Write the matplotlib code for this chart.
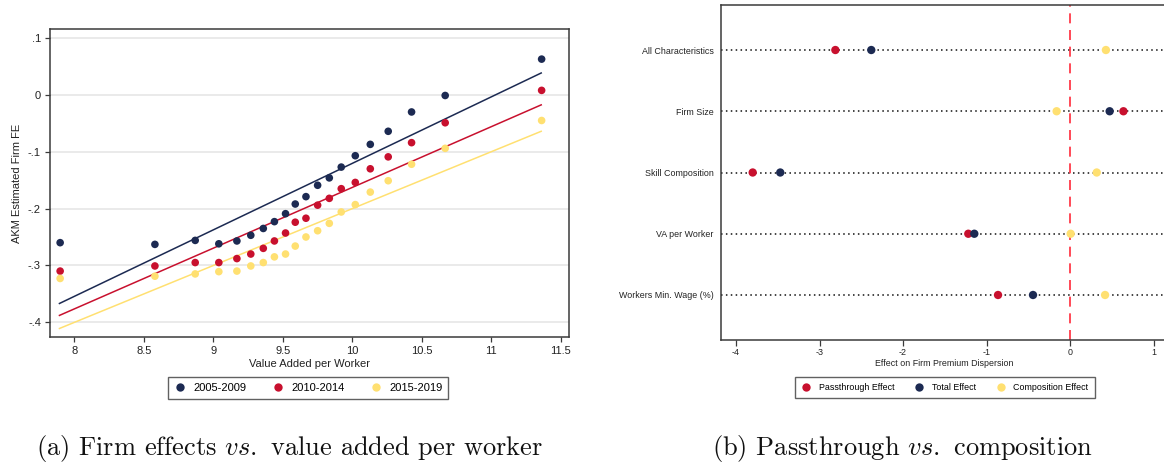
import numpy as np
import matplotlib
matplotlib.use("Agg")
import matplotlib.pyplot as plt
from matplotlib.ticker import FuncFormatter
from matplotlib.lines import Line2D

plt.rcParams["font.family"] = ["Liberation Sans", "DejaVu Sans"]

# ---------------- data: panel (a) ----------------
va_per_worker = [7.898, 8.58, 8.87, 9.04, 9.17, 9.27, 9.36, 9.44, 9.52, 9.59,
                 9.667, 9.751, 9.835, 9.921, 10.022, 10.13, 10.259, 10.427, 10.669, 11.363]
fe_2005_2009 = [-0.260, -0.263, -0.256, -0.262, -0.257, -0.247, -0.235, -0.223, -0.209, -0.192,
                -0.179, -0.159, -0.146, -0.127, -0.107, -0.087, -0.064, -0.030, -0.001, 0.063]
fe_2010_2014 = [-0.310, -0.301, -0.295, -0.295, -0.288, -0.280, -0.270, -0.257, -0.243, -0.224,
                -0.217, -0.194, -0.182, -0.165, -0.154, -0.130, -0.109, -0.084, -0.049, 0.008]
fe_2015_2019 = [-0.323, -0.319, -0.315, -0.311, -0.310, -0.301, -0.295, -0.285, -0.280, -0.266,
                -0.250, -0.239, -0.226, -0.206, -0.193, -0.171, -0.151, -0.122, -0.094, -0.045]
fit_x = [7.893, 11.36]
fit_2005_2009 = [-0.367, 0.0386]
fit_2010_2014 = [-0.388, -0.0175]
fit_2015_2019 = [-0.411, -0.064]
period_labels = ["2005-2009", "2010-2014", "2015-2019"]

# ---------------- data: panel (b) ----------------
characteristics = ["All Characteristics", "Firm Size", "Skill Composition",
                   "VA per Worker", "Workers Min. Wage (%)"]
passthrough_effect = [-2.81, 0.64, -3.80, -1.218, -0.862]
total_effect = [-2.38, 0.475, -3.47, -1.146, -0.443]
composition_effect = [0.43, -0.16, 0.32, 0.008, 0.42]
effect_labels = ["Passthrough Effect", "Total Effect", "Composition Effect"]

NAVY = "#1c2a52"
RED = "#c8102e"
YELLOW = "#ffe071"
SPINE = "#3a3a3a"
TXT = "#222222"

W, H = 1164, 466
fig = plt.figure(figsize=(W / 100, H / 100), dpi=100)

def ax_rect(x0, y0, x1, y1):
    return [x0 / W, 1 - y1 / H, (x1 - x0) / W, (y1 - y0) / H]

def stata_fmt(v, pos):
    if abs(v) < 1e-9:
        return "0"
    return ("%.1f" % v).replace("0.", ".")

# ---------------- panel (a) ----------------
ax1 = fig.add_axes(ax_rect(50, 29, 569, 337))
ax1.set_xlim(7.825, 11.56)
ax1.set_ylim(-0.426, 0.116)
for yv in [0.1, 0.0, -0.1, -0.2, -0.3, -0.4]:
    ax1.axhline(yv, color="#e6e6e6", lw=1.2, zorder=0)
series = [(fe_2005_2009, fit_2005_2009, NAVY),
          (fe_2010_2014, fit_2010_2014, RED),
          (fe_2015_2019, fit_2015_2019, YELLOW)]
for pts, fit, col in series:
    ax1.plot(fit_x, fit, color=col, lw=1.1, zorder=2)
for pts, fit, col in series:
    ax1.scatter(va_per_worker, pts, s=30, color=col, edgecolors="none", zorder=3)
ax1.set_yticks([0.1, 0.0, -0.1, -0.2, -0.3, -0.4])
ax1.yaxis.set_major_formatter(FuncFormatter(stata_fmt))
ax1.set_xticks([8, 8.5, 9, 9.5, 10, 10.5, 11, 11.5])
ax1.set_xticklabels(["8", "8.5", "9", "9.5", "10", "10.5", "11", "11.5"])
ax1.tick_params(axis="both", labelsize=8, length=3.5, width=0.9, color=SPINE,
                labelcolor=TXT, pad=3)
for sp in ax1.spines.values():
    sp.set_color(SPINE)
    sp.set_linewidth(1.1)
ax1.set_xlabel("Value Added per Worker", fontsize=8, color=TXT, labelpad=2)
ax1.set_ylabel("AKM Estimated Firm FE", fontsize=8, color=TXT, labelpad=4)
h1 = [Line2D([], [], ls="none", marker="o", ms=6, color=c, markeredgewidth=0)
      for c in (NAVY, RED, YELLOW)]
leg1 = fig.legend(h1, period_labels, loc="center", bbox_to_anchor=(308 / W, 1 - 388 / H),
                  ncol=3, fontsize=8, frameon=True, fancybox=False, edgecolor=SPINE,
                  handletextpad=0.6, columnspacing=2.2, borderpad=0.5, handlelength=1.2)
leg1.get_frame().set_linewidth(1.0)

# ---------------- panel (b) ----------------
ax2 = fig.add_axes(ax_rect(720.7, 5, 1168, 340))
ax2.set_xlim((720.7 - 1070) / 83.5, (1168 - 1070) / 83.5)
ax2.set_ylim(0.265, 5.735)
ypos = np.arange(len(characteristics))[::-1] + 1
for y in ypos:
    ax2.axhline(y, color="#111111", lw=1.1, ls=(0, (1, 2.2)), zorder=1)
ax2.axvline(0, color="#ff2a3a", lw=1.2, ls=(0, (6, 4)), zorder=1)
ax2.scatter(passthrough_effect, ypos, s=36, color=RED, edgecolors="none", zorder=3)
ax2.scatter(total_effect, ypos, s=36, color=NAVY, edgecolors="none", zorder=3)
ax2.scatter(composition_effect, ypos, s=36, color=YELLOW, edgecolors="none", zorder=3)
ax2.set_yticks(ypos)
ax2.set_yticklabels(characteristics)
ax2.tick_params(axis="y", length=0, labelsize=6.4, pad=5, labelcolor=TXT)
ax2.set_xticks([-4, -3, -2, -1, 0, 1])
ax2.set_xticklabels(["-4", "-3", "-2", "-1", "0", "1"])
ax2.tick_params(axis="x", labelsize=6.4, length=4, width=0.9, color=SPINE, pad=2,
                labelcolor=TXT)
for sp in ax2.spines.values():
    sp.set_color(SPINE)
    sp.set_linewidth(1.1)
ax2.set_xlabel("Effect on Firm Premium Dispersion", fontsize=6.4, color=TXT, labelpad=1)
h2 = [Line2D([], [], ls="none", marker="o", ms=6, color=c, markeredgewidth=0)
      for c in (RED, NAVY, YELLOW)]
leg2 = fig.legend(h2, effect_labels, loc="center", bbox_to_anchor=(944.7 / W, 1 - 387.5 / H),
                  ncol=3, fontsize=6.4, frameon=True, fancybox=False, edgecolor=SPINE,
                  handletextpad=0.8, columnspacing=2.2, borderpad=0.7, handlelength=1.2)
leg2.get_frame().set_linewidth(1.0)

# ---------------- captions ----------------
plt.rcParams["mathtext.fontset"] = "cm"
cap_kw = dict(fontsize=19, family="cmr10", va="center", ha="left", color="#111111")
fig.text(36 / W, 1 - 448 / H, r"(a) Firm effects $\mathit{vs.}$ value added per worker", **cap_kw)
fig.text(712 / W, 1 - 448 / H, r"(b) Passthrough $\mathit{vs.}$ composition", **cap_kw)

fig.savefig("out.png", dpi=100)
